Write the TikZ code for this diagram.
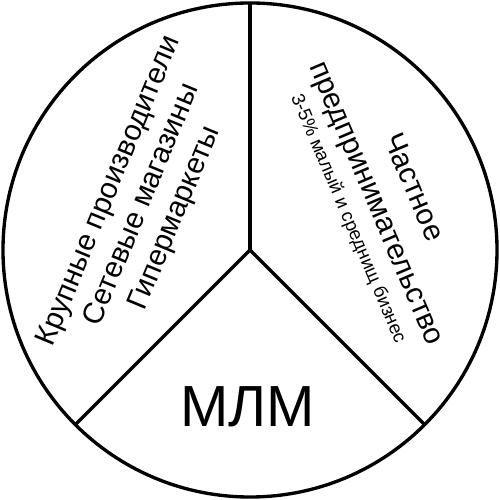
\documentclass[tikz,border=0pt]{standalone}
\usepackage{fontspec}
\setmainfont{Liberation Sans}
\usepackage{tikz}
\usetikzlibrary{calc, positioning}

\begin{document}
\begin{tikzpicture}[
  rim/.style={line width=1.9pt},
  part/.style={line width=1.9pt},
  lft/.style={align=center, inner sep=0pt, rotate=67.5, font=\fontsize{16.8}{20.2}\selectfont},
  rgt/.style={align=center, inner sep=0pt, rotate=-67, font=\fontsize{16.8}{22.8}\selectfont},
  sml/.style={inner sep=0pt, rotate=-67, font=\fontsize{10.6}{13}\selectfont},
  big/.style={inner sep=0pt, font=\fontsize{33}{38}\selectfont}]
  \def\R{4.94}
  \useasboundingbox (-5,-5) rectangle (5,5);
  % Круг и делители
  \coordinate (o) at (0,0);
  \draw[rim] (o) circle (\R);
  \coordinate (top) at (90:\R);
  \coordinate (bl) at (225:\R);
  \coordinate (br) at (315:\R);
  \draw[part] (o)--(top); \draw[part] (o)--(bl); \draw[part] (o)--(br);
  % Подписи секторов
  \node[lft] (left) at (-2.15,0.9) {Крупные производители\\Сетевые магазины\\Гипермаркеты};
  \node[rgt] (right) at (2.87,1.08) {Частное\\предпринимательство};
  \node[sml] (small) at (1.96,0.62) {3-5\% малый и среднищ бизнес};
  \node[big] (mlm) at (-0.05,-3.14) {МЛМ};
\end{tikzpicture}
\end{document}
